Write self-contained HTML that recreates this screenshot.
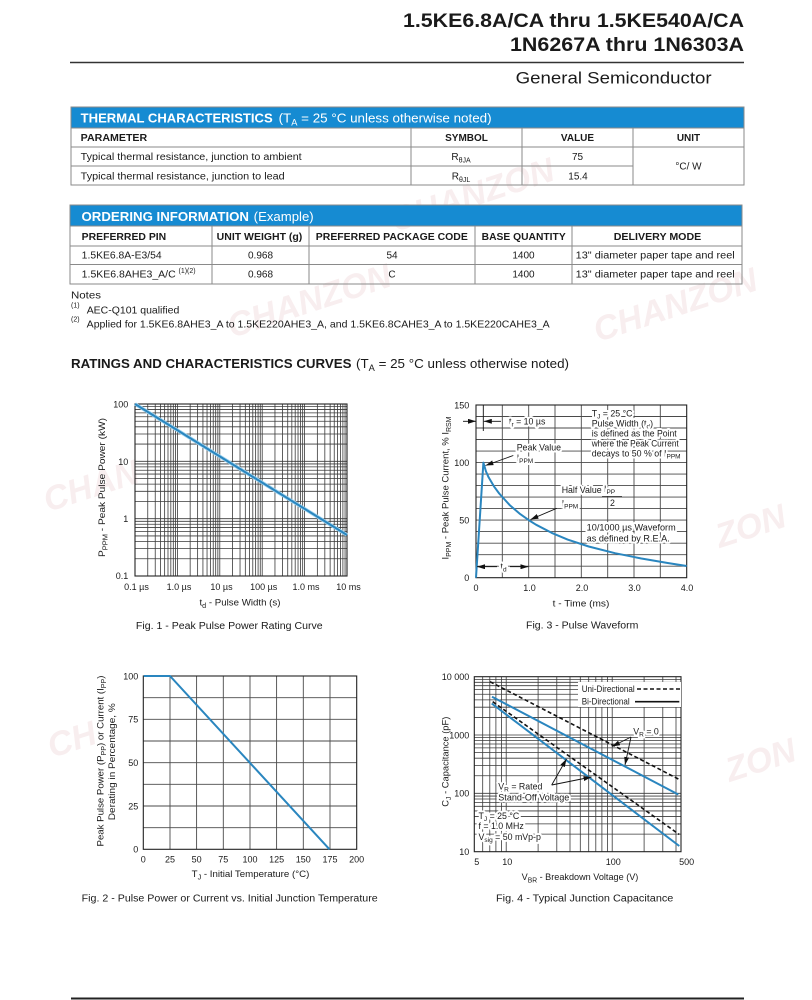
<!DOCTYPE html>
<html><head><meta charset="utf-8">
<style>
html,body{margin:0;padding:0;background:#fff;}
svg{display:block;}
text{font-family:"Liberation Sans",Arial,sans-serif;fill:#1a1a1a;}
.h{paint-order:stroke;stroke:#fff;stroke-width:4px;stroke-linejoin:round;}
.wm{font-weight:bold;font-style:italic;fill:#f8eeef;font-size:34px;}
</style></head>
<body>
<svg width="812" height="1000" viewBox="0 0 812 1000" xmlns="http://www.w3.org/2000/svg">
<defs>
<marker id="ah" viewBox="0 0 10 10" refX="10" refY="5" markerWidth="8" markerHeight="5" markerUnits="userSpaceOnUse" orient="auto" preserveAspectRatio="none"><path d="M0,0 L10,5 L0,10z" fill="#111"/></marker>
</defs>

<!-- watermarks -->
<text class="wm" transform="translate(395,232) rotate(-18)">CHANZON</text>
<text class="wm" transform="translate(232,338) rotate(-18)">CHANZON</text>
<text class="wm" transform="translate(598,342) rotate(-18)">CHANZON</text>
<text class="wm" transform="translate(48,512) rotate(-18)">CHAN</text>
<text class="wm" transform="translate(720,548) rotate(-18)">ZON</text>
<text class="wm" transform="translate(730,782) rotate(-18)">ZON</text>
<text class="wm" transform="translate(52,758) rotate(-18)">CH</text>

<!-- header -->
<text x="744" y="27" text-anchor="end" font-weight="bold" font-size="19.5" textLength="341" lengthAdjust="spacingAndGlyphs">1.5KE6.8A/CA thru 1.5KE540A/CA</text>
<text x="744" y="51" text-anchor="end" font-weight="bold" font-size="19.5" textLength="234" lengthAdjust="spacingAndGlyphs">1N6267A thru 1N6303A</text>
<line x1="70" y1="62.5" x2="744" y2="62.5" stroke="#333" stroke-width="1.4"/>
<text x="515.6" y="83.5" font-size="16.5" textLength="196" lengthAdjust="spacingAndGlyphs" fill="#222">General Semiconductor</text>

<!-- thermal table -->
<rect x="71" y="107" width="673" height="21" fill="#168bd2"/>
<text x="80.7" y="122.5" font-size="13" font-weight="bold" style="fill:#fff" textLength="192" lengthAdjust="spacingAndGlyphs">THERMAL CHARACTERISTICS</text>
<text x="278.6" y="122.5" font-size="13" style="fill:#fff" textLength="213" lengthAdjust="spacingAndGlyphs">(T<tspan dy="3" font-size="9">A</tspan><tspan dy="-3"> = 25 °C unless otherwise noted)</tspan></text>
<g stroke="#8a8a8a" stroke-width="1" fill="none">
<rect x="71" y="107" width="673" height="78"/>
<line x1="71" y1="128" x2="744" y2="128"/>
<line x1="71" y1="147" x2="744" y2="147"/>
<line x1="71" y1="166" x2="633" y2="166"/>
<line x1="411" y1="128" x2="411" y2="185"/>
<line x1="522" y1="128" x2="522" y2="185"/>
<line x1="633" y1="128" x2="633" y2="185"/>
</g>
<g font-size="10">
<text x="80.7" y="141" font-weight="bold" textLength="66.5" lengthAdjust="spacingAndGlyphs">PARAMETER</text>
<text x="466.5" y="141" font-weight="bold" text-anchor="middle">SYMBOL</text>
<text x="577.5" y="141" font-weight="bold" text-anchor="middle">VALUE</text>
<text x="688.5" y="141" font-weight="bold" text-anchor="middle">UNIT</text>
<text x="80.7" y="160" textLength="221" lengthAdjust="spacingAndGlyphs">Typical thermal resistance, junction to ambient</text>
<text x="80.7" y="179.5" textLength="204" lengthAdjust="spacingAndGlyphs">Typical thermal resistance, junction to lead</text>
<text x="461" y="160" text-anchor="middle">R<tspan dy="2.5" font-size="7">θJA</tspan></text>
<text x="461" y="179.5" text-anchor="middle">R<tspan dy="2.5" font-size="7">θJL</tspan></text>
<text x="577.5" y="160" text-anchor="middle">75</text>
<text x="578" y="179.5" text-anchor="middle">15.4</text>
<text x="688.5" y="169.5" text-anchor="middle">°C/ W</text>
</g>

<!-- ordering table -->
<rect x="70" y="205" width="672" height="21" fill="#168bd2"/>
<text x="81.5" y="221" font-size="13" font-weight="bold" style="fill:#fff" textLength="167.5" lengthAdjust="spacingAndGlyphs">ORDERING INFORMATION</text>
<text x="253.7" y="221" font-size="13" style="fill:#fff" textLength="60" lengthAdjust="spacingAndGlyphs">(Example)</text>
<g stroke="#8a8a8a" stroke-width="1" fill="none">
<rect x="70" y="205" width="672" height="79"/>
<line x1="70" y1="226" x2="742" y2="226"/>
<line x1="70" y1="246" x2="742" y2="246"/>
<line x1="70" y1="264.5" x2="742" y2="264.5"/>
<line x1="212" y1="226" x2="212" y2="284"/>
<line x1="309" y1="226" x2="309" y2="284"/>
<line x1="475" y1="226" x2="475" y2="284"/>
<line x1="572" y1="226" x2="572" y2="284"/>
</g>
<g font-size="10">
<text x="81.7" y="240" font-weight="bold" textLength="84.5" lengthAdjust="spacingAndGlyphs">PREFERRED PIN</text>
<text x="259.5" y="240" font-weight="bold" text-anchor="middle" textLength="85.6" lengthAdjust="spacingAndGlyphs">UNIT WEIGHT (g)</text>
<text x="391.8" y="240" font-weight="bold" text-anchor="middle" textLength="152" lengthAdjust="spacingAndGlyphs">PREFERRED PACKAGE CODE</text>
<text x="523.7" y="240" font-weight="bold" text-anchor="middle" textLength="84" lengthAdjust="spacingAndGlyphs">BASE QUANTITY</text>
<text x="657.5" y="240" font-weight="bold" text-anchor="middle" textLength="87.5" lengthAdjust="spacingAndGlyphs">DELIVERY MODE</text>
<text x="81.7" y="258.5" textLength="80" lengthAdjust="spacingAndGlyphs">1.5KE6.8A-E3/54</text>
<text x="260.5" y="258.5" text-anchor="middle">0.968</text>
<text x="392" y="258.5" text-anchor="middle">54</text>
<text x="523.5" y="258.5" text-anchor="middle">1400</text>
<text x="575.7" y="258.5" textLength="159" lengthAdjust="spacingAndGlyphs">13" diameter paper tape and reel</text>
<text x="81.7" y="277.7" textLength="94" lengthAdjust="spacingAndGlyphs">1.5KE6.8AHE3_A/C</text>
<text x="178.5" y="273" font-size="7">(1)(2)</text>
<text x="260.5" y="277.7" text-anchor="middle">0.968</text>
<text x="392" y="277.7" text-anchor="middle">C</text>
<text x="523.5" y="277.7" text-anchor="middle">1400</text>
<text x="575.7" y="277.7" textLength="159" lengthAdjust="spacingAndGlyphs">13" diameter paper tape and reel</text>
</g>

<!-- notes -->
<text x="71" y="298.3" font-size="10.5" textLength="30" lengthAdjust="spacingAndGlyphs">Notes</text>
<text x="71" y="307.5" font-size="7">(1)</text>
<text x="86.7" y="313.3" font-size="10.5" textLength="92.6" lengthAdjust="spacingAndGlyphs">AEC-Q101 qualified</text>
<text x="71" y="321.5" font-size="7">(2)</text>
<text x="86.7" y="327.3" font-size="10.5" textLength="463" lengthAdjust="spacingAndGlyphs">Applied for 1.5KE6.8AHE3_A to 1.5KE220AHE3_A, and 1.5KE6.8CAHE3_A to 1.5KE220CAHE3_A</text>

<!-- heading -->
<text x="71" y="368" font-size="13" font-weight="bold" textLength="280.5" lengthAdjust="spacingAndGlyphs">RATINGS AND CHARACTERISTICS CURVES</text>
<text x="356" y="368" font-size="13" textLength="213" lengthAdjust="spacingAndGlyphs">(T<tspan dy="3" font-size="9">A</tspan><tspan dy="-3"> = 25 °C unless otherwise noted)</tspan></text>

<!-- ================= FIG 1 ================= -->
<g stroke="#3a3a3a" stroke-width="0.8" fill="none">
<path d="M147.76 404V576M155.23 404V576M160.53 404V576M164.64 404V576M167.99 404V576M170.83 404V576M173.29 404V576M175.46 404V576M177.4 404V576M190.16 404V576M197.63 404V576M202.93 404V576M207.04 404V576M210.39 404V576M213.23 404V576M215.69 404V576M217.86 404V576M219.8 404V576M232.56 404V576M240.03 404V576M245.33 404V576M249.44 404V576M252.79 404V576M255.63 404V576M258.09 404V576M260.26 404V576M262.2 404V576M274.96 404V576M282.43 404V576M287.73 404V576M291.84 404V576M295.19 404V576M298.03 404V576M300.49 404V576M302.66 404V576M304.6 404V576M317.36 404V576M324.83 404V576M330.13 404V576M334.24 404V576M337.59 404V576M340.43 404V576M342.89 404V576M345.06 404V576"/>
<path d="M135 558.74H347M135 548.65H347M135 541.48H347M135 535.93H347M135 531.39H347M135 527.55H347M135 524.23H347M135 521.29H347M135 518.67H347M135 501.41H347M135 491.32H347M135 484.15H347M135 478.6H347M135 474.06H347M135 470.22H347M135 466.9H347M135 463.96H347M135 461.33H347M135 444.07H347M135 433.98H347M135 426.81H347M135 421.26H347M135 416.72H347M135 412.88H347M135 409.56H347M135 406.62H347"/>
</g>
<rect x="135" y="404" width="212" height="172" fill="none" stroke="#222" stroke-width="1.1"/>
<line x1="135" y1="404" x2="347" y2="535" stroke="#9fd3ef" stroke-width="3.6"/>
<line x1="135" y1="404" x2="347" y2="535" stroke="#2a86bf" stroke-width="2"/>
<g font-size="9" fill="#333">
<text x="128.3" y="407.5" text-anchor="end">100</text>
<text x="128.3" y="465" text-anchor="end">10</text>
<text x="128.3" y="522" text-anchor="end">1</text>
<text x="128.3" y="579" text-anchor="end">0.1</text>
<text x="136.5" y="590" text-anchor="middle">0.1 µs</text>
<text x="179" y="590" text-anchor="middle">1.0 µs</text>
<text x="221.5" y="590" text-anchor="middle">10 µs</text>
<text x="263.7" y="590" text-anchor="middle">100 µs</text>
<text x="306" y="590" text-anchor="middle">1.0 ms</text>
<text x="348.5" y="590" text-anchor="middle">10 ms</text>
</g>
<text x="240" y="605.5" font-size="9.5" text-anchor="middle" textLength="81" lengthAdjust="spacingAndGlyphs">t<tspan dy="2.5" font-size="7">d</tspan><tspan dy="-2.5"> - Pulse Width (s)</tspan></text>
<text transform="translate(105,487.5) rotate(-90)" font-size="9.5" text-anchor="middle" textLength="139" lengthAdjust="spacingAndGlyphs">P<tspan dy="2.5" font-size="7">PPM</tspan><tspan dy="-2.5"> - Peak Pulse Power (kW)</tspan></text>
<text x="229.3" y="629" font-size="10" text-anchor="middle" textLength="186.7" lengthAdjust="spacingAndGlyphs">Fig. 1 - Peak Pulse Power Rating Curve</text>

<!-- ================= FIG 3 ================= -->
<g stroke="#4a4a4a" stroke-width="0.9" fill="none">
<path d="M502.3 405V577.7M528.7 405V577.7M555 405V577.7M581.3 405V577.7M607.7 405V577.7M634 405V577.7M660.3 405V577.7"/>
<path d="M476 416.5H686.7M476 428H686.7M476 439.5H686.7M476 451.1H686.7M476 462.6H686.7M476 474.1H686.7M476 485.6H686.7M476 497.1H686.7M476 508.6H686.7M476 520.1H686.7M476 531.6H686.7M476 543.2H686.7M476 554.7H686.7M476 566.2H686.7"/>
</g>
<rect x="476" y="405" width="210.7" height="172.7" fill="none" stroke="#222" stroke-width="1.1"/>
<g font-size="8.8">
<text class="h" x="509" y="424.5">t<tspan dy="2" font-size="6.5">r</tspan><tspan dy="-2"> = 10 µs</tspan></text>
<text class="h" x="591.7" y="416.5">T<tspan dy="2" font-size="6.5">J</tspan><tspan dy="-2"> = 25 °C</tspan></text>
<text class="h" x="591.7" y="426.5">Pulse Width (t<tspan dy="2" font-size="6.5">d</tspan><tspan dy="-2">)</tspan></text>
<text class="h" x="591.7" y="436.5" textLength="85" lengthAdjust="spacingAndGlyphs">is defined as the Point</text>
<text class="h" x="591.7" y="446.5" textLength="87" lengthAdjust="spacingAndGlyphs">where the Peak Current</text>
<text class="h" x="591.7" y="456.5">decays to 50 % of I<tspan dy="2" font-size="6.5">PPM</tspan></text>
<text class="h" x="516.7" y="450.5">Peak Value</text>
<text class="h" x="516.7" y="461">I<tspan dy="2" font-size="6.5">PPM</tspan></text>
<text class="h" x="561.7" y="493">Half Value -</text>
<text class="h" x="561.7" y="506.5">I<tspan dy="2" font-size="6.5">PPM</tspan></text>
<text class="h" x="604" y="492">I<tspan dy="2" font-size="6.5">PP</tspan></text>
<text class="h" x="612.5" y="506" text-anchor="middle">2</text>
<text class="h" x="586.7" y="530.5" textLength="89" lengthAdjust="spacingAndGlyphs">10/1000 µs Waveform</text>
<text class="h" x="586.7" y="541.5" textLength="83" lengthAdjust="spacingAndGlyphs">as defined by R.E.A.</text>
<text class="h" x="500.5" y="569.5">t<tspan dy="2" font-size="6.5">d</tspan></text>
</g>
<line x1="602" y1="496.5" x2="622" y2="496.5" stroke="#222" stroke-width="0.8"/>
<path d="M476,577.7 L483.4,462.6 L486.0,471.5 L488.6,477.3 L493.9,486.3 L499.2,493.5 L509.7,505.1 L520.2,514.1 L528.7,520.1 L536.0,524.7 L551.8,532.9 L567.6,539.6 L588.7,546.5 L615.0,553.2 L641.4,558.5 L667.7,563 L686.7,566" fill="none" stroke="#2a86bf" stroke-width="2" stroke-linejoin="round"/>
<g stroke="#111" stroke-width="0.9" fill="none">
<line x1="463" y1="421.3" x2="476" y2="421.3" marker-end="url(#ah)"/>
<line x1="483.3" y1="405" x2="483.3" y2="431"/>
<line x1="501" y1="421.3" x2="483.8" y2="421.3" marker-end="url(#ah)"/>
<line x1="513.3" y1="455.5" x2="485.5" y2="465.5" marker-end="url(#ah)"/>
<line x1="556.7" y1="508.3" x2="530.5" y2="519.5" marker-end="url(#ah)"/>
<line x1="497" y1="566.7" x2="477" y2="566.7" marker-end="url(#ah)"/>
<line x1="510" y1="566.7" x2="528.5" y2="566.7" marker-end="url(#ah)"/>
</g>
<g font-size="9" fill="#333">
<text x="469.3" y="408.5" text-anchor="end">150</text>
<text x="469.3" y="466" text-anchor="end">100</text>
<text x="469.3" y="523.5" text-anchor="end">50</text>
<text x="469.3" y="581" text-anchor="end">0</text>
<text x="476" y="591" text-anchor="middle">0</text>
<text x="529.5" y="591" text-anchor="middle">1.0</text>
<text x="582" y="591" text-anchor="middle">2.0</text>
<text x="634.5" y="591" text-anchor="middle">3.0</text>
<text x="687" y="591" text-anchor="middle">4.0</text>
</g>
<text x="581" y="606.7" font-size="9.5" text-anchor="middle" textLength="56.7" lengthAdjust="spacingAndGlyphs">t - Time (ms)</text>
<text transform="translate(448.5,488) rotate(-90)" font-size="9.5" text-anchor="middle" textLength="143" lengthAdjust="spacingAndGlyphs">I<tspan dy="2.5" font-size="7">PPM</tspan><tspan dy="-2.5"> - Peak Pulse Current, % I</tspan><tspan dy="2.5" font-size="7">RSM</tspan></text>
<text x="582.2" y="628.5" font-size="10" text-anchor="middle" textLength="112.3" lengthAdjust="spacingAndGlyphs">Fig. 3 - Pulse Waveform</text>

<!-- ================= FIG 2 ================= -->
<g stroke="#4a4a4a" stroke-width="0.9" fill="none">
<path d="M170 676V849.3M196.6 676V849.3M223.3 676V849.3M250 676V849.3M276.6 676V849.3M303.3 676V849.3M330 676V849.3"/>
<path d="M143.3 697.7H356.7M143.3 719.3H356.7M143.3 741H356.7M143.3 762.7H356.7M143.3 784.3H356.7M143.3 806H356.7M143.3 827.7H356.7"/>
</g>
<rect x="143.3" y="676" width="213.4" height="173.3" fill="none" stroke="#222" stroke-width="1.1"/>
<polyline points="143.8,676 170,676 329.5,849.3" fill="none" stroke="#2a86bf" stroke-width="2"/>
<g font-size="9" fill="#333">
<text x="138.3" y="679.5" text-anchor="end">100</text>
<text x="138.3" y="722.5" text-anchor="end">75</text>
<text x="138.3" y="766" text-anchor="end">50</text>
<text x="138.3" y="809.5" text-anchor="end">25</text>
<text x="138.3" y="852.5" text-anchor="end">0</text>
<text x="143.3" y="862.5" text-anchor="middle">0</text>
<text x="170" y="862.5" text-anchor="middle">25</text>
<text x="196.6" y="862.5" text-anchor="middle">50</text>
<text x="223.3" y="862.5" text-anchor="middle">75</text>
<text x="250" y="862.5" text-anchor="middle">100</text>
<text x="276.6" y="862.5" text-anchor="middle">125</text>
<text x="303.3" y="862.5" text-anchor="middle">150</text>
<text x="330" y="862.5" text-anchor="middle">175</text>
<text x="356.7" y="862.5" text-anchor="middle">200</text>
</g>
<text x="250.5" y="877" font-size="9.5" text-anchor="middle" textLength="117.6" lengthAdjust="spacingAndGlyphs">T<tspan dy="2.5" font-size="7">J</tspan><tspan dy="-2.5"> - Initial Temperature (°C)</tspan></text>
<text transform="translate(103.5,761) rotate(-90)" font-size="9.5" text-anchor="middle" textLength="171" lengthAdjust="spacingAndGlyphs">Peak Pulse Power (P<tspan dy="2.5" font-size="7">PP</tspan><tspan dy="-2.5">) or Current (I</tspan><tspan dy="2.5" font-size="7">PP</tspan><tspan dy="-2.5">)</tspan></text>
<text transform="translate(115,761.7) rotate(-90)" font-size="9.5" text-anchor="middle" textLength="117" lengthAdjust="spacingAndGlyphs">Derating in Percentage, %</text>
<text x="229.7" y="901.5" font-size="10" text-anchor="middle" textLength="296" lengthAdjust="spacingAndGlyphs">Fig. 2 - Pulse Power or Current vs. Initial Junction Temperature</text>

<!-- ================= FIG 4 ================= -->
<g stroke="#3a3a3a" stroke-width="0.8" fill="none">
<path d="M482.7 676.7V851.7M489.8 676.7V851.7M495.9 676.7V851.7M501.4 676.7V851.7M506.2 676.7V851.7M538.1 676.7V851.7M556.8 676.7V851.7M570 676.7V851.7M580.3 676.7V851.7M588.7 676.7V851.7M595.8 676.7V851.7M601.9 676.7V851.7M607.4 676.7V851.7M612.2 676.7V851.7M644.1 676.7V851.7M662.8 676.7V851.7M676 676.7V851.7"/>
<path d="M474.3 834.14H681M474.3 823.87H681M474.3 816.58H681M474.3 810.93H681M474.3 806.31H681M474.3 802.4H681M474.3 799.02H681M474.3 796.04H681M474.3 793.3H681M474.3 775.74H681M474.3 765.47H681M474.3 758.18H681M474.3 752.53H681M474.3 747.91H681M474.3 744H681M474.3 740.62H681M474.3 737.64H681M474.3 735H681M474.3 717.44H681M474.3 707.17H681M474.3 699.88H681M474.3 694.23H681M474.3 689.61H681M474.3 685.7H681M474.3 682.32H681M474.3 679.34H681"/>
</g>
<rect x="474.3" y="676.7" width="206.7" height="175" fill="none" stroke="#222" stroke-width="1.1"/>
<rect x="578" y="682" width="103" height="25" fill="#fff"/>
<g font-size="8.8">
<text class="h" x="581.7" y="692" textLength="53" lengthAdjust="spacingAndGlyphs">Uni-Directional</text>
<text class="h" x="581.7" y="704.7" textLength="48" lengthAdjust="spacingAndGlyphs">Bi-Directional</text>
<text class="h" x="633.3" y="734.7">V<tspan dy="2" font-size="6.5">R</tspan><tspan dy="-2"> = 0</tspan></text>
<text class="h" x="498.3" y="789.7">V<tspan dy="2" font-size="6.5">R</tspan><tspan dy="-2"> = Rated</tspan></text>
<text class="h" x="498.3" y="800.3" textLength="71" lengthAdjust="spacingAndGlyphs">Stand-Off Voltage</text>
<text class="h" x="478.5" y="819">T<tspan dy="2" font-size="6.5">J</tspan><tspan dy="-2"> = 25 °C</tspan></text>
<text class="h" x="478.5" y="829">f = 1.0 MHz</text>
<text class="h" x="478.5" y="840">V<tspan dy="2" font-size="6.5">sig</tspan><tspan dy="-2"> = 50 mVp-p</tspan></text>
</g>
<line x1="637" y1="689" x2="680" y2="689" stroke="#111" stroke-width="1.6" stroke-dasharray="4,2.5"/>
<line x1="635" y1="701.7" x2="679.3" y2="701.7" stroke="#111" stroke-width="1.6"/>
<line x1="490" y1="681.7" x2="679.3" y2="779.5" stroke="#111" stroke-width="1.6" stroke-dasharray="4,2.5"/>
<line x1="492.7" y1="701.7" x2="679.3" y2="834.5" stroke="#111" stroke-width="1.6" stroke-dasharray="4,2.5"/>
<line x1="492" y1="696.7" x2="678.3" y2="794.5" stroke="#2a86bf" stroke-width="2"/>
<line x1="491.7" y1="703.5" x2="679.3" y2="846" stroke="#2a86bf" stroke-width="2"/>
<g stroke="#111" stroke-width="0.9" fill="none">
<line x1="631" y1="737" x2="612" y2="746.5" marker-end="url(#ah)"/>
<line x1="631" y1="737" x2="625" y2="765" marker-end="url(#ah)"/>
<line x1="551.7" y1="785" x2="566.5" y2="759" marker-end="url(#ah)"/>
<line x1="551.7" y1="785" x2="591.5" y2="777" marker-end="url(#ah)"/>
</g>
<g font-size="9" fill="#333">
<text x="469.3" y="680" text-anchor="end">10 000</text>
<text x="469.3" y="738.3" text-anchor="end">1000</text>
<text x="469.3" y="796.6" text-anchor="end">100</text>
<text x="469.3" y="855" text-anchor="end">10</text>
<text x="476.7" y="865" text-anchor="middle">5</text>
<text x="507.3" y="865" text-anchor="middle">10</text>
<text x="613.3" y="865" text-anchor="middle">100</text>
<text x="686.7" y="865" text-anchor="middle">500</text>
</g>
<text x="580" y="880" font-size="9.5" text-anchor="middle" textLength="116.7" lengthAdjust="spacingAndGlyphs">V<tspan dy="2.5" font-size="7">BR</tspan><tspan dy="-2.5"> - Breakdown Voltage (V)</tspan></text>
<text transform="translate(448.5,761.7) rotate(-90)" font-size="9.5" text-anchor="middle" textLength="90" lengthAdjust="spacingAndGlyphs">C<tspan dy="2.5" font-size="7">J</tspan><tspan dy="-2.5"> - Capacitance (pF)</tspan></text>
<text x="584.7" y="901.5" font-size="10" text-anchor="middle" textLength="177.3" lengthAdjust="spacingAndGlyphs">Fig. 4 - Typical Junction Capacitance</text>

<!-- bottom rule -->
<line x1="71" y1="998.5" x2="744" y2="998.5" stroke="#222" stroke-width="2"/>
</svg>
</body></html>
